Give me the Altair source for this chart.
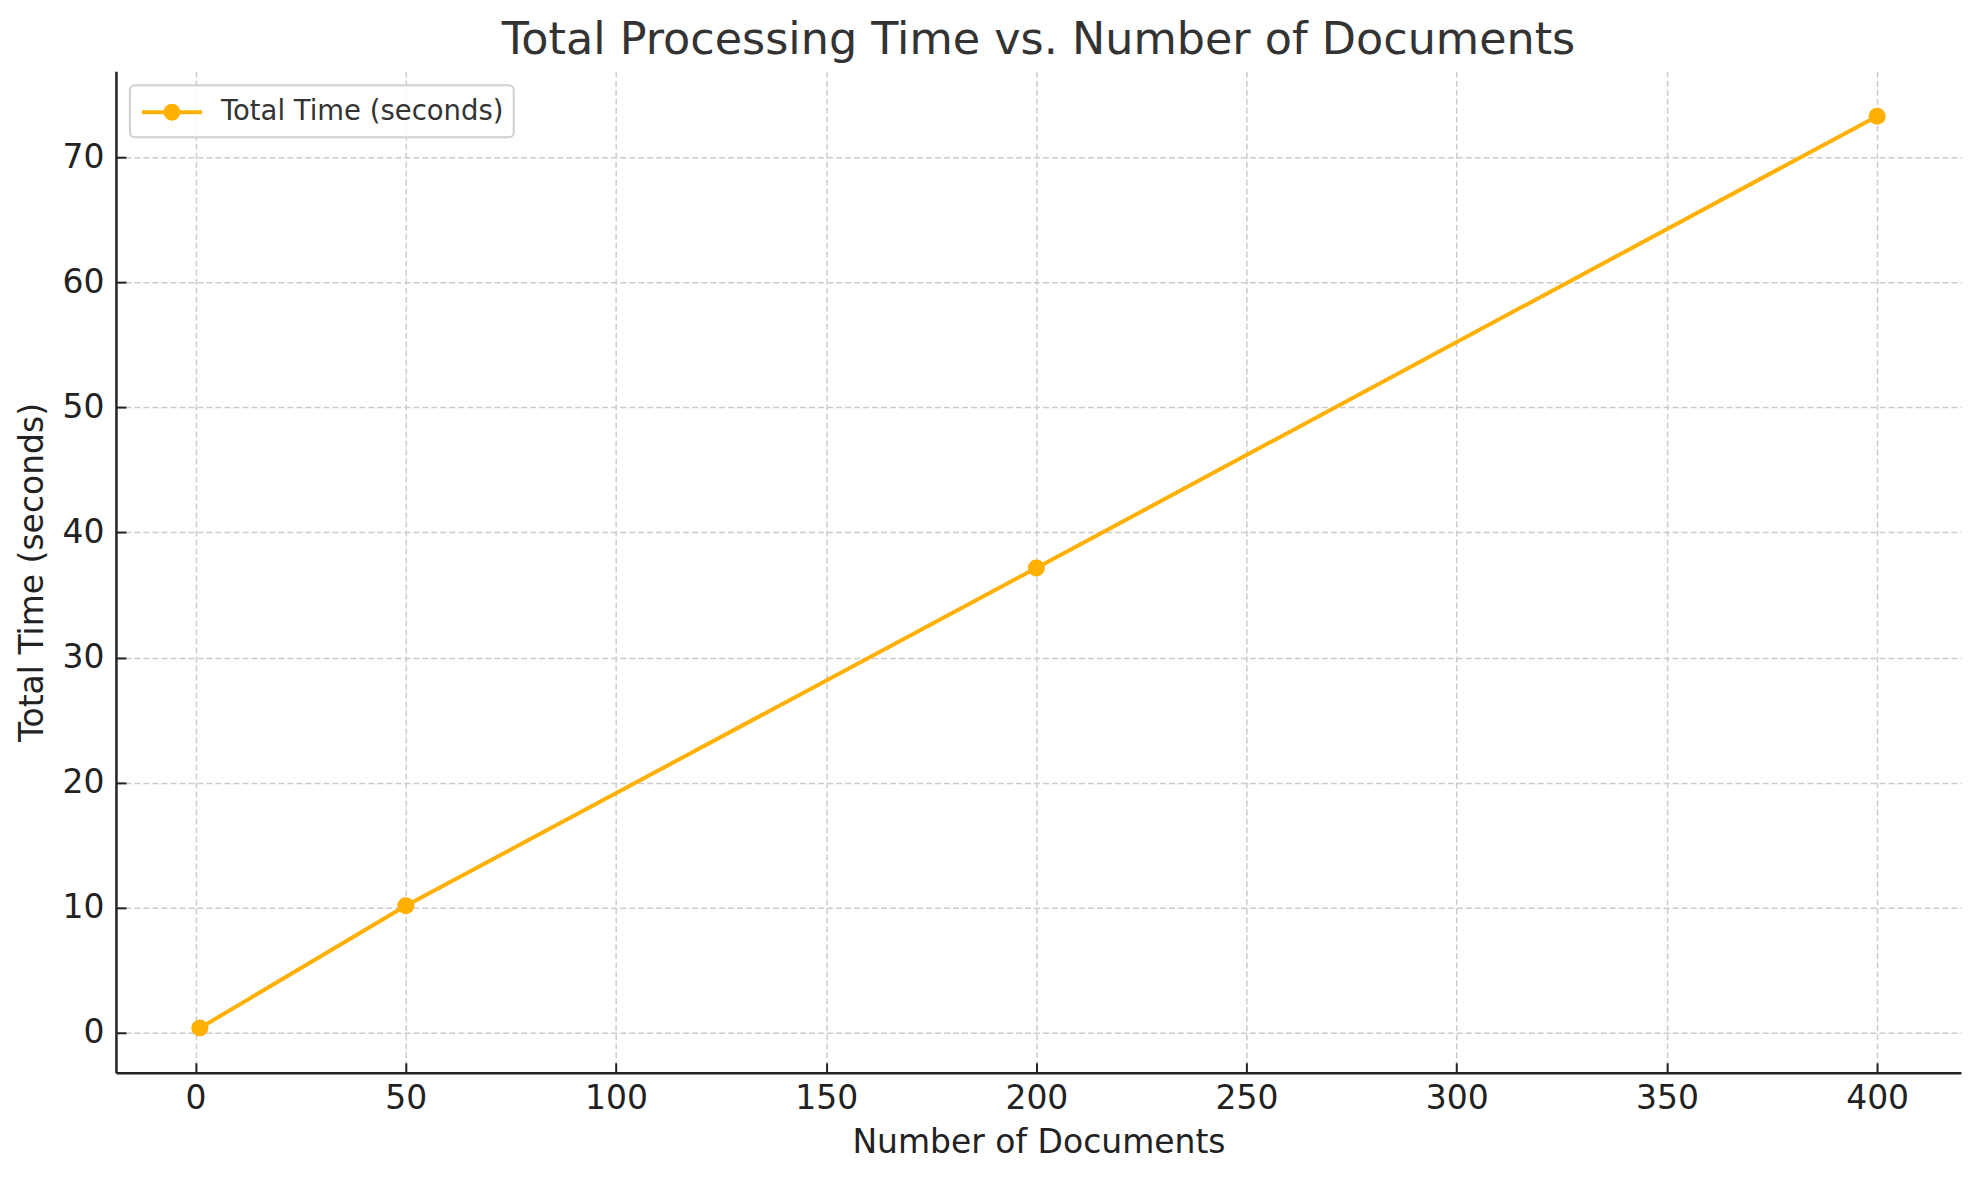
import altair as alt
import pandas as pd

docs = [1, 50, 200, 400]
times = [0.37, 10.15, 37.16, 73.28]
series = ["Total Time (seconds)"] * 4

x_ticks = [0, 50, 100, 150, 200, 250, 300, 350, 400]
y_ticks = [0, 10, 20, 30, 40, 50, 60, 70]

df = pd.DataFrame({"docs": docs, "time": times, "series": series})

ORANGE = "#FFB000"
FONT = "DejaVu Sans"
W, H = 1846, 1002

xs = alt.Scale(domain=[-18.95, 419.95], nice=False, zero=False)
ys = alt.Scale(domain=[-3.2, 76.87], nice=False, zero=False)

main_x = alt.Axis(values=x_ticks, title="Number of Documents", ticks=False,
                  labelPadding=10, grid=True, titleY=80, titleBaseline="alphabetic",
                  domainColor="#222222", domainWidth=2.5)
main_y = alt.Axis(values=y_ticks, title="Total Time (seconds)", ticks=False,
                  labelPadding=12, grid=True, titleX=-73, titleY=H / 2,
                  titleBaseline="alphabetic", titleAngle=270,
                  domainColor="#222222", domainWidth=2.5)
tick_x = alt.Axis(values=x_ticks, orient="top", offset=-H, title=None, labels=False,
                  domain=False, grid=False, ticks=True, tickSize=10, tickWidth=2,
                  tickColor="#222222")
tick_y = alt.Axis(values=y_ticks, orient="right", offset=-W, title=None, labels=False,
                  domain=False, grid=False, ticks=True, tickSize=10, tickWidth=2,
                  tickColor="#222222")

sym_path = ("M-1,0L3,0M1.43,0A0.43,0.43,0,1,1,0.57,0A0.43,0.43,0,1,1,1.43,0Z")

base = alt.Chart(df)

line = base.mark_line(strokeWidth=4).encode(
    x=alt.X("docs:Q", scale=xs, axis=main_x),
    y=alt.Y("time:Q", scale=ys, axis=main_y),
    color=alt.Color("series:N", scale=alt.Scale(range=[ORANGE]),
                    legend=alt.Legend(title=None, orient="top-left", offset=14,
                                      symbolType=sym_path, symbolSize=900,
                                      symbolStrokeWidth=4, symbolStrokeColor=ORANGE,
                                      symbolFillColor=ORANGE, labelOffset=47,
                                      padding=10, labelFont=FONT, labelFontSize=27.5,
                                      labelColor="#333333", labelLimit=600,
                                      fillColor="rgba(255,255,255,0.8)",
                                      strokeColor="#d0d0d0",
                                      cornerRadius=5)),
)

pts = base.mark_circle(size=290, opacity=1, color=ORANGE).encode(
    x=alt.X("docs:Q", scale=xs, axis=tick_x),
    y=alt.Y("time:Q", scale=ys, axis=tick_y),
)

chart = alt.layer(line, pts).resolve_axis(x="independent", y="independent").properties(
    width=W, height=H,
    autosize=alt.AutoSizeParams(type="none"),
    padding={"left": 108, "top": 63, "right": 10, "bottom": 90},
    title=alt.Title("Total Processing Time vs. Number of Documents", font=FONT,
                    fontSize=44.5, fontWeight="normal", color="#333333",
                    anchor="middle", offset=8),
).configure_axis(
    labelFont=FONT, labelFontSize=33, labelColor="#222222",
    titleFont=FONT, titleFontSize=33, titleColor="#222222", titleFontWeight="normal",
    gridColor="#cccccc", gridDash=[6, 3], gridWidth=1.5,
).configure_legend(strokeWidth=2).configure_view(stroke=None)

chart.save("out.html", embed_options={"renderer": "svg", "actions": False})
